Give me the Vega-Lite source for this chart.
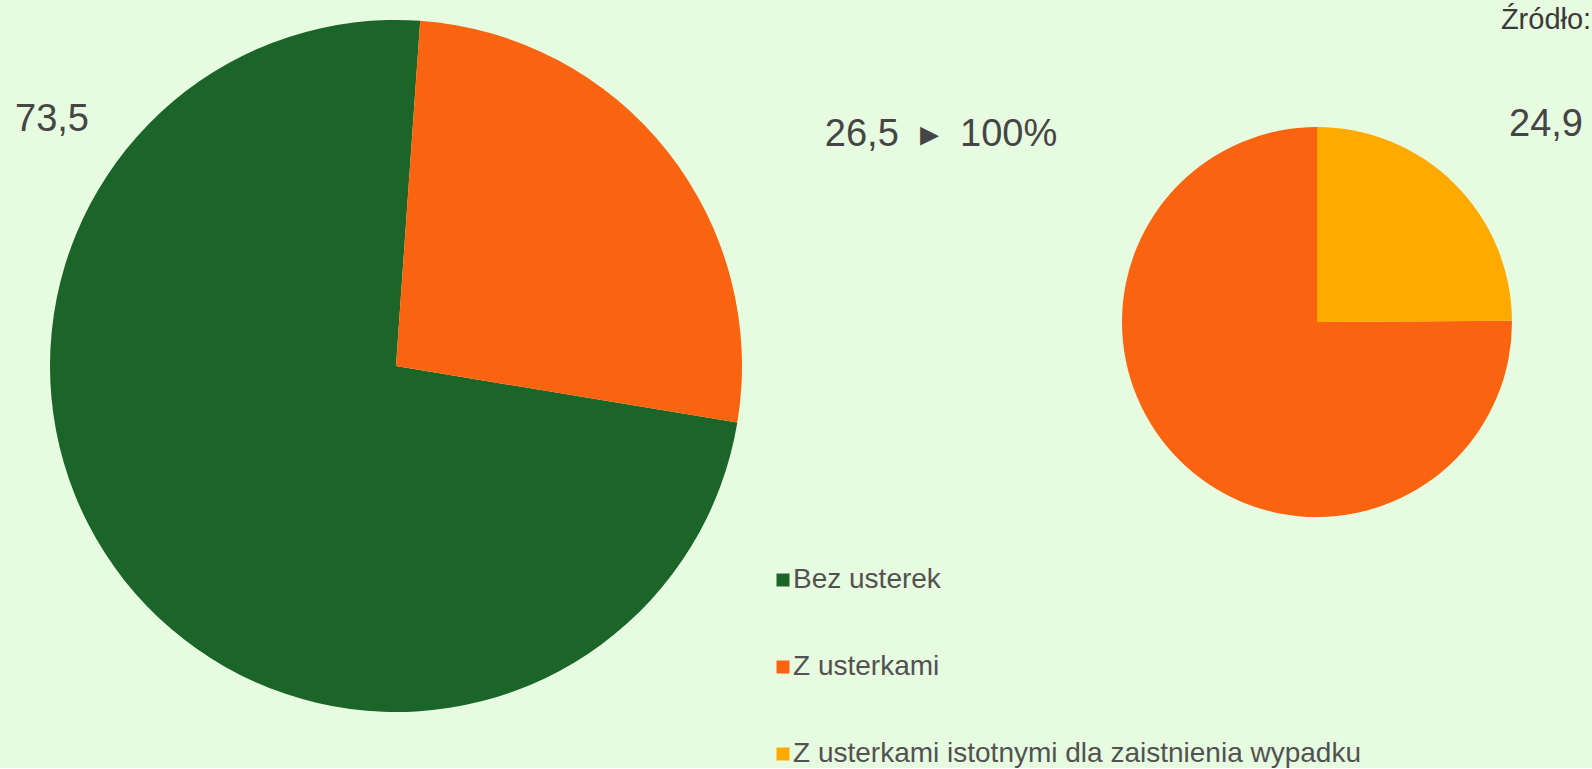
{
  "$schema": "https://vega.github.io/schema/vega-lite/v6.json",
  "autosize": {"type": "pad"},
  "padding": 0,
  "background": "#e7fbe1",
  "spacing": 0,
  "bounds": "flush",
  "datasets": {
    "duze": [
      {"kategoria": "Bez usterek", "wartosc": 73.5},
      {"kategoria": "Z usterkami", "wartosc": 26.5}
    ],
    "male": [
      {"kategoria": "Z usterkami", "wartosc": 75.1},
      {"kategoria": "Z usterkami istotnymi dla zaistnienia wypadku", "wartosc": 24.9}
    ],
    "opisy": [
      {"id": "przejscie", "tekst": "26,5\u00a0\u00a0▸\u00a0\u00a0100%"},
      {"id": "zrodlo", "tekst": "Źródło:"}
    ]
  },
  "resolve": {"scale": {"theta": "independent"}},
  "hconcat": [
    {
      "width": 104,
      "height": 260,
      "data": {"name": "duze"},
      "transform": [{"filter": "datum.kategoria === 'Bez usterek'"}],
      "mark": {"type": "text", "font": "Liberation Sans", "fontSize": 38, "color": "#454545", "align": "center", "baseline": "alphabetic"},
      "encoding": {"text": {"field": "wartosc", "type": "quantitative", "format": ".1f"}}
    },
    {
      "width": 584,
      "height": 730,
      "data": {"name": "duze"},
      "mark": {"type": "arc", "radius": 346, "stroke": null},
      "encoding": {
        "theta": {"field": "wartosc", "type": "quantitative", "stack": true, "scale": {"range": [0.07, 6.3532]}},
        "order": {"field": "wartosc", "type": "quantitative", "sort": "ascending"},
        "color": {
          "field": "kategoria",
          "type": "nominal",
          "scale": {
            "domain": ["Bez usterek", "Z usterkami", "Z usterkami istotnymi dla zaistnienia wypadku"],
            "range": ["#1b6528", "#fa6410", "#ffaa00"]
          },
          "legend": {"orient": "none", "legendX": 769, "legendY": 565, "title": null}
        }
      }
    },
    {
      "width": 506,
      "height": 290,
      "data": {"name": "opisy"},
      "transform": [{"filter": "datum.id === 'przejscie'"}],
      "mark": {"type": "text", "font": "Liberation Sans", "fontSize": 38, "color": "#454545", "align": "center", "baseline": "alphabetic"},
      "encoding": {"text": {"field": "tekst", "type": "nominal"}}
    },
    {
      "width": 246,
      "height": 642,
      "data": {"name": "male"},
      "mark": {"type": "arc", "radius": 195, "stroke": null},
      "encoding": {
        "theta": {"field": "wartosc", "type": "quantitative", "stack": true},
        "order": {"field": "wartosc", "type": "quantitative", "sort": "ascending"},
        "color": {
          "field": "kategoria",
          "type": "nominal",
          "scale": {
            "domain": ["Bez usterek", "Z usterkami", "Z usterkami istotnymi dla zaistnienia wypadku"],
            "range": ["#1b6528", "#fa6410", "#ffaa00"]
          },
          "legend": {"orient": "none", "legendX": 769, "legendY": 565, "title": null}
        }
      }
    },
    {
      "spacing": 0,
      "bounds": "flush",
      "hconcat": [
        {
          "width": 60,
          "height": 10,
          "data": {"name": "opisy"},
          "transform": [{"filter": "datum.id === 'zrodlo'"}],
          "mark": {"type": "text"},
          "encoding": {"text": {"value": ""}}
        },
        {
          "spacing": 0,
          "bounds": "flush",
          "vconcat": [
            {
              "width": 92,
              "height": 56,
              "data": {"name": "opisy"},
              "transform": [{"filter": "datum.id === 'zrodlo'"}],
              "mark": {"type": "text", "font": "Liberation Sans", "fontSize": 29, "color": "#3a3a3a", "align": "center", "baseline": "alphabetic", "clip": true},
              "encoding": {"text": {"field": "tekst", "type": "nominal"}}
            },
            {
              "width": 92,
              "height": 158,
              "data": {"name": "male"},
              "transform": [{"filter": "datum.wartosc < 50"}],
              "mark": {"type": "text", "font": "Liberation Sans", "fontSize": 38, "color": "#454545", "align": "center", "baseline": "alphabetic"},
              "encoding": {"text": {"field": "wartosc", "type": "quantitative", "format": ".1f"}}
            }
          ]
        }
      ]
    }
  ],
  "config": {
    "locale": {"number": {"decimal": ",", "thousands": " ", "grouping": [3], "currency": ["", " zł"]}},
    "view": {"stroke": null},
    "legend": {
      "orient": "none",
      "direction": "vertical",
      "symbolType": "square",
      "symbolSize": 169,
      "symbolStrokeWidth": 0,
      "labelFont": "Liberation Sans",
      "labelFontSize": 28,
      "labelColor": "#525252",
      "labelOffset": -4,
      "rowPadding": 59,
      "padding": 0,
      "labelLimit": 900
    }
  }
}
